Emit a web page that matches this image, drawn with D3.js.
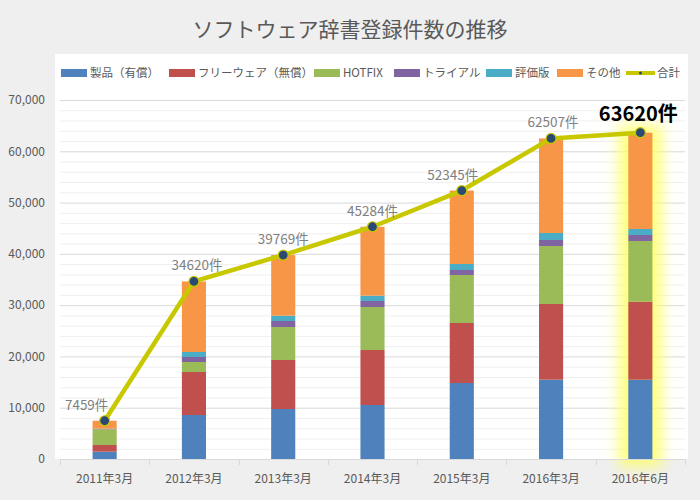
<!DOCTYPE html>
<html><head><meta charset="utf-8">
<script src="https://cdn.jsdelivr.net/npm/d3@7"></script>
<style>html,body{margin:0;padding:0;background:#efefef;}svg{display:block;}</style>
</head><body><svg id="c" width="700" height="500"></svg>
<script>
const categories = ["2011年3月","2012年3月","2013年3月","2014年3月","2015年3月","2016年3月","2016年6月"];
const seriesNames = ["製品（有償）","フリーウェア（無償）","HOTFIX","トライアル","評価版","その他"];
const product    = [1430, 8580, 9750, 10530, 14820, 15470, 15470];
const freeware   = [1300, 8385, 9555, 10725, 11700, 14755, 15210];
const hotfix     = [3060, 1950, 6435, 8385, 9360, 11310, 11830];
const trial      = [60, 975, 1170, 1170, 975, 1170, 1170];
const evaluation = [60, 975, 1040, 1040, 1170, 1365, 1170];
const other      = [1549, 13755, 11819, 13434, 14320, 18437, 18770];
const totals     = [7459, 34620, 39769, 45284, 52345, 62507, 63620];
const totalName  = "合計";
const yTicks     = [0,10000,20000,30000,40000,50000,60000,70000];
const colors     = ["#4f81bd","#c0504d","#9bbb59","#8064a2","#4bacc6","#f79646"];

const FONT = "'Noto Sans CJK JP','Noto Sans',sans-serif";
const svg = d3.select("#c");
svg.append("rect").attr("width",700).attr("height",500).attr("fill","#efefef");
svg.append("rect").attr("x",55).attr("y",54).attr("width",633).attr("height",405).attr("fill","#ffffff");

svg.append("text").attr("x",350).attr("y",37).attr("text-anchor","middle")
  .attr("font-family",FONT).attr("font-size",21).attr("fill","#595959")
  .text("ソフトウェア辞書登録件数の推移");

const x = d3.scaleBand().domain(categories).range([60,685]).paddingInner(0.73).paddingOuter(0.365);
const y = d3.scaleLinear().domain([0,70000]).range([459,100]);

// gridlines
const minor = d3.range(0,70001,2000);
svg.append("g").selectAll("line").data(minor).join("line")
  .attr("x1",60).attr("x2",685).attr("y1",d=>y(d)+0.5).attr("y2",d=>y(d)+0.5)
  .attr("stroke",d=> d%10000===0 ? "#d9d9d9" : "#efefef").attr("stroke-width",1);

// y labels
const yAxis = d3.axisLeft(y).tickValues(yTicks).tickSize(0).tickPadding(0).tickFormat(d3.format(","));
const ya = svg.append("g").attr("transform","translate(45,0)").call(yAxis);
ya.select(".domain").remove();
ya.selectAll("text").attr("font-family",FONT).attr("font-size",12).attr("fill","#595959");

// glow on last bar
const defs = svg.append("defs");
defs.append("filter").attr("id","glow").attr("x","-150%").attr("y","-20%").attr("width","400%").attr("height","140%")
  .append("feGaussianBlur").attr("stdDeviation",7);
const lastC = categories[categories.length-1];
const lastT = totals[totals.length-1];
svg.append("rect").attr("x",x(lastC)-10).attr("width",x.bandwidth()+20)
  .attr("y",y(lastT)-8).attr("height",y(0)-y(lastT)+16)
  .attr("fill","#ffff60").attr("opacity",0.8).attr("filter","url(#glow)");

// stacked bars
const seriesArrays = [product,freeware,hotfix,trial,evaluation,other];
const rows = categories.map((c,i)=>{const o={cat:c}; seriesNames.forEach((s,k)=>o[s]=seriesArrays[k][i]); return o;});
const stack = d3.stack().keys(seriesNames)(rows);
svg.append("g").selectAll("g").data(stack).join("g").attr("fill",(d,i)=>colors[i])
  .selectAll("rect").data(d=>d).join("rect")
  .attr("x",d=>x(d.data.cat)).attr("width",x.bandwidth())
  .attr("y",d=>y(d[1])).attr("height",d=>y(d[0])-y(d[1]));

// x axis
const xAxisG = svg.append("g");
xAxisG.append("line").attr("x1",60).attr("x2",685).attr("y1",459.5).attr("y2",459.5).attr("stroke","#d9d9d9");
const bounds = d3.range(categories.length+1).map(i=>60+i*x.step());
xAxisG.selectAll("line.t").data(bounds).join("line").attr("class","t")
  .attr("x1",d=>Math.round(d)+0.5).attr("x2",d=>Math.round(d)+0.5).attr("y1",459).attr("y2",465).attr("stroke","#d9d9d9");
xAxisG.selectAll("text").data(categories).join("text")
  .attr("x",d=>x(d)+x.bandwidth()/2).attr("y",483).attr("text-anchor","middle")
  .attr("font-family",FONT).attr("font-size",12).attr("fill","#595959").text(d=>d);

// total line
const cx = d=>x(d)+x.bandwidth()/2;
const line = d3.line().x((d,i)=>cx(categories[i])).y(d=>y(d));
svg.append("path").datum(totals).attr("d",line).attr("fill","none")
  .attr("stroke","#c8c800").attr("stroke-width",4.5).attr("stroke-linejoin","round");
svg.append("g").selectAll("circle").data(totals).join("circle")
  .attr("cx",(d,i)=>cx(categories[i])).attr("cy",d=>y(d)).attr("r",5)
  .attr("fill","#2a4a73").attr("stroke","#c8c800").attr("stroke-width",1.2);

// labels
const labelDx = [-18,3,0,0,-9,2,-2];
svg.append("g").selectAll("text").data(totals).join("text")
  .attr("x",(d,i)=>cx(categories[i])+labelDx[i])
  .attr("y",(d,i)=> i===totals.length-1 ? y(d)-12 : y(d)-11)
  .attr("text-anchor","middle").attr("font-family",FONT)
  .attr("font-size",(d,i)=> i===totals.length-1 ? 20 : 13.5)
  .attr("font-weight",(d,i)=> i===totals.length-1 ? "bold" : "normal")
  .attr("fill",(d,i)=> i===totals.length-1 ? "#000000" : "#7f7f7f")
  .text(d=>d+"件");

// legend
const legendX = [61,169,314,394,486,557,626];
const lg = svg.append("g");
seriesNames.forEach((s,i)=>{
  lg.append("rect").attr("x",legendX[i]).attr("y",69).attr("width",26).attr("height",8).attr("fill",colors[i]);
  lg.append("text").attr("x",legendX[i]+29).attr("y",77).attr("font-family",FONT).attr("font-size",11.5)
    .attr("fill","#595959").text(s);
});
const li = seriesNames.length;
lg.append("line").attr("x1",legendX[li]).attr("x2",legendX[li]+29).attr("y1",73).attr("y2",73)
  .attr("stroke","#c8c800").attr("stroke-width",4);
lg.append("circle").attr("cx",legendX[li]+14.5).attr("cy",73).attr("r",1.5).attr("fill","#2a4a73");
lg.append("text").attr("x",legendX[li]+31).attr("y",77).attr("font-family",FONT).attr("font-size",11.5)
  .attr("fill","#595959").text(totalName);
</script></body></html>
